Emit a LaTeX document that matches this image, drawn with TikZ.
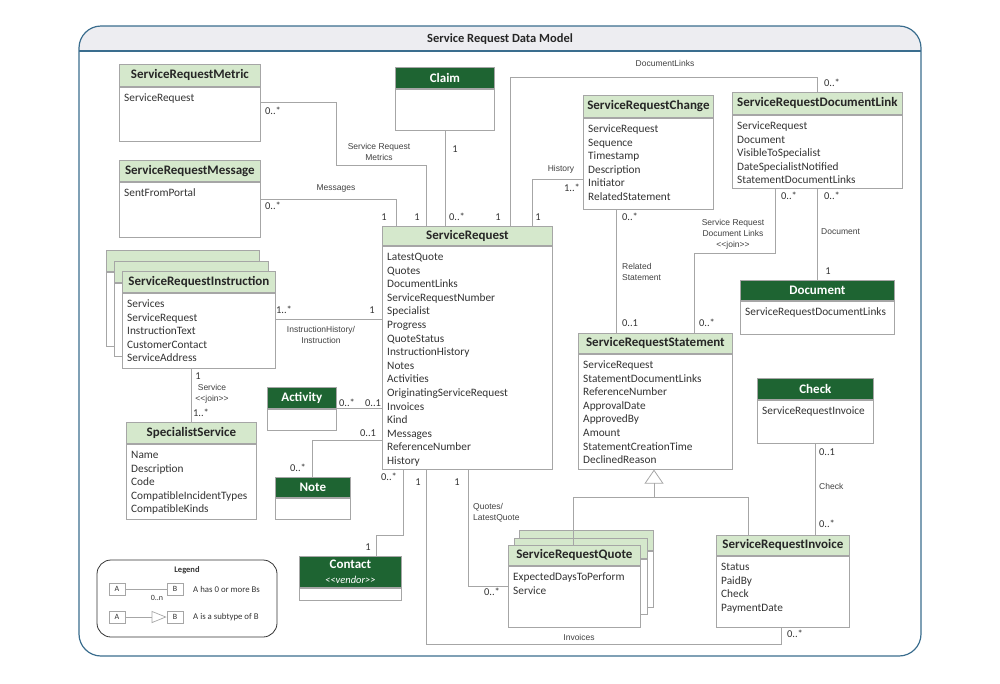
\documentclass[tikz,border=0pt]{standalone}
\usepackage{fontspec}
\setmainfont{Carlito}
\newfontfamily\arialfont{Liberation Sans}
\usetikzlibrary{calc,arrows.meta}

\definecolor{lightgreen}{HTML}{D5E8CC}
\definecolor{darkgreen}{HTML}{1E6432}
\definecolor{boxgray}{HTML}{A6A6A6}
\definecolor{txt}{HTML}{333333}
\definecolor{frameblue}{HTML}{3A6D8E}
\definecolor{bandgray}{HTML}{EDEDF1}

\tikzset{
  x=1pt, y=-1pt,
  lighthdr/.style={draw=boxgray, fill=lightgreen, line width=0.8pt, inner sep=0pt,
    font=\fontsize{13}{15}\selectfont\bfseries, text=black!85, align=center},
  darkhdr/.style={draw=boxgray, fill=darkgreen, line width=0.8pt, inner sep=0pt,
    font=\fontsize{13}{15}\selectfont\bfseries, text=white, align=center},
  bodybox/.style={draw=boxgray, fill=white, line width=0.8pt, inner sep=0pt},
  attrs/.style={font=\fontsize{11.3}{13.6}\selectfont, text=txt, inner sep=0pt,
    align=left, anchor=north west},
  conn/.style={draw=boxgray, line width=0.8pt},
  mult/.style={font=\fontsize{10.5}{12}\selectfont, text=txt, inner sep=0pt},
  lbl/.style={font=\arialfont\fontsize{8.5}{10.8}\selectfont, text=black!75,
    inner sep=0pt, align=center},
  legbox/.style={draw=boxgray, fill=white, line width=0.7pt, minimum width=16,
    minimum height=12, inner sep=0pt, font=\fontsize{8}{9}\selectfont, text=txt},
  legtext/.style={font=\fontsize{8.8}{10}\selectfont, text=txt, inner sep=0pt, anchor=west},
}

% class box: name, x, y, width, header height, body height, header style, title, attributes
\newcommand\classbox[9]{%
  \node[#7, minimum width=#4, minimum height=#5, anchor=north west] (#1) at (#2,#3) {#8};
  \node[bodybox, minimum width=#4, minimum height=#6, anchor=north] (#1B) at (#1.south) {};
  \node[attrs] (#1A) at ($(#1B.north west)+(5,4.5)$) {\rule{0pt}{10pt}#9};
}
% stacked copy behind a class box: name, x, y, width, header height, body height
\newcommand\stackbox[6]{%
  \node[lighthdr, minimum width=#4, minimum height=#5, anchor=north west] (#1) at (#2,#3) {};
  \node[bodybox, minimum width=#4, minimum height=#6, anchor=north] (#1B) at (#1.south) {};
}

\begin{document}
\begin{tikzpicture}
\useasboundingbox (0,0) rectangle (1000,683);

% frame with title band
\fill[bandgray] (79,51) [rounded corners=22] -- (79,26) -- (921,26) [sharp corners] -- (921,51) -- cycle;
\draw[frameblue, line width=1.2pt, rounded corners=22] (79,26) rectangle (921,656);
\draw[frameblue, line width=1.5pt] (79,51) -- (921,51);
\node[font=\fontsize{12.5}{14}\selectfont\bfseries, text=black!85, inner sep=0pt] (title) at (500,39) {Service Request Data Model};

% classes
\classbox{metric}{119}{64}{141}{22}{54}{lighthdr}{ServiceRequestMetric}{ServiceRequest}
\classbox{msg}{119}{160}{141}{21}{55}{lighthdr}{ServiceRequestMessage}{SentFromPortal}
\classbox{claim}{395}{67}{99}{21}{41}{darkhdr}{Claim}{}
\classbox{sr}{382}{226}{170}{19}{223}{lighthdr}{ServiceRequest}{LatestQuote\\Quotes\\DocumentLinks\\ServiceRequestNumber\\Specialist\\Progress\\QuoteStatus\\InstructionHistory\\Notes\\Activities\\OriginatingServiceRequest\\Invoices\\Kind\\Messages\\ReferenceNumber\\History}
\classbox{chg}{583}{95}{130}{22}{91}{lighthdr}{ServiceRequestChange}{ServiceRequest\\Sequence\\Timestamp\\Description\\Initiator\\RelatedStatement}
\classbox{dl}{732}{92}{170}{22}{73}{lighthdr}{ServiceRequestDocumentLink}{ServiceRequest\\Document\\VisibleToSpecialist\\DateSpecialistNotified\\StatementDocumentLinks}
\classbox{doc}{740}{280}{154}{20}{33}{darkhdr}{Document}{ServiceRequestDocumentLinks}
\classbox{stmt}{578}{333}{154}{20}{115}{lighthdr}{ServiceRequestStatement}{ServiceRequest\\StatementDocumentLinks\\ReferenceNumber\\ApprovalDate\\ApprovedBy\\Amount\\StatementCreationTime\\DeclinedReason}
\classbox{chk}{757}{378}{116}{21}{43}{darkhdr}{Check}{ServiceRequestInvoice}
\classbox{inv}{716}{535}{133}{20}{71}{lighthdr}{ServiceRequestInvoice}{Status\\PaidBy\\Check\\PaymentDate}

\stackbox{quoteBackB}{519}{530}{134}{20}{56}
\stackbox{quoteBackA}{514}{538}{133}{20}{55}
\classbox{quote}{508}{545}{132}{20}{61}{lighthdr}{ServiceRequestQuote}{ExpectedDaysToPerform\\Service}

\stackbox{instrBackB}{106}{250}{153}{21}{74}
\stackbox{instrBackA}{114}{261}{154}{21}{73}
\classbox{instr}{122}{271}{153}{21}{75}{lighthdr}{ServiceRequestInstruction}{Services\\ServiceRequest\\InstructionText\\CustomerContact\\ServiceAddress}

\classbox{spec}{126}{422}{130}{21}{75}{lighthdr}{SpecialistService}{Name\\Description\\Code\\CompatibleIncidentTypes\\CompatibleKinds}
\classbox{act}{267}{387}{69}{21}{21}{darkhdr}{Activity}{}
\classbox{note}{275}{477}{75}{20}{21}{darkhdr}{Note}{}
\classbox{contact}{299}{556}{102}{31}{12}{darkhdr}{Contact\\{\mdseries\itshape\fontsize{10.5}{11}\selectfont <{}<vendor>{}>}}{}

% associations
\coordinate (metricBend) at (336,165);
\draw[conn] ($(metricB.north east)+(0,16)$) -| (metricBend) -| ($(sr.north west)+(44,0)$);
\draw[conn] ($(msgB.north east)+(0,18)$) -| ($(sr.north west)+(14,0)$);
\draw[conn] ($(claimB.south west)+(50,0)$) -- ($(sr.north west)+(63,0)$);
\draw[conn] ($(sr.north west)+(128,0)$) |- ($(dl.north west)+(85,-15)$) -- ($(dl.north west)+(85,0)$);
\draw[conn] ($(sr.north west)+(150,0)$) |- ($(chgB.north west)+(0,62)$);
\draw[conn] ($(chgB.south west)+(33,0)$) -- ($(stmt.north west)+(38,0)$);
\draw[conn] ($(dlB.south west)+(43,0)$) -- ($(dlB.south west)+(43,65)$) -| ($(stmt.north west)+(116,0)$);
\draw[conn] ($(dlB.south west)+(85,0)$) -- ($(doc.north west)+(77,0)$);
\draw[conn] ($(instrB.north east)+(0,27)$) -- ($(srB.north west)+(0,74)$);
\draw[conn] ($(instrB.south west)+(69,0)$) -- ($(spec.north west)+(65,0)$);
\draw[conn] (actB.north east) -- ($(srB.north west)+(0,163)$);
\draw[conn] ($(srB.north west)+(0,195)$) -| ($(note.north west)+(37,0)$);
\draw[conn] ($(srB.south west)+(21,0)$) -- ($(srB.south west)+(21,66)$) -| ($(contact.north west)+(77,0)$);
\draw[conn] ($(srB.south west)+(86,0)$) |- ($(quoteB.north west)+(0,21)$);
\draw[conn] ($(srB.south west)+(44,0)$) |- ($(invB.south west)+(65,17)$) -- ($(invB.south west)+(65,0)$);
\draw[conn] ($(chkB.south west)+(58,0)$) -- ($(inv.north west)+(99,0)$);

% generalization of quote and invoice to statement
\coordinate (genJoin) at ($(stmtB.south west)+(76,28)$);
\draw[conn, -{Triangle[open, length=14pt, width=19pt, line width=0.8pt]}]
  ($(quote.north west)+(65,0)$) |- (genJoin) -- ($(stmtB.south west)+(76,0)$);
\draw[conn] ($(inv.north west)+(32,0)$) |- (genJoin);

% association labels
\node[lbl] (lMetrics) at (379,152) {Service Request\\Metrics};
\node[lbl] (lMessages) at (336,188) {Messages};
\node[lbl] (lDocLinks) at (665,63) {DocumentLinks};
\node[lbl] (lHistory) at (561,169) {History};
\node[lbl, align=left, anchor=west] (lRelated) at (622,272) {Related\\Statement};
\node[lbl] (lJoin) at (733,234) {Service Request\\Document Links\\<{}<join>{}>};
\node[lbl, anchor=west] (lDocument) at (821,232) {Document};
\node[lbl] (lInstr) at (321,335) {InstructionHistory/\\Instruction};
\node[lbl] (lService) at (212,394) {Service\\<{}<join>{}>};
\node[lbl, align=left, anchor=west] (lQuotes) at (473,513) {Quotes/\\LatestQuote};
\node[lbl] (lInvoices) at (579,637) {Invoices};
\node[lbl, anchor=west] (lCheck) at (819,486) {Check};

% multiplicities
\node[mult] (mMetric) at (273,111) {0..*};
\node[mult] (mMsg) at (273,206) {0..*};
\node[mult] (mSrMsg) at (384,217) {1};
\node[mult] (mSrMetric) at (417,217) {1};
\node[mult] (mSrClaim) at (457,217) {0..*};
\node[mult] (mSrDoc) at (498,217) {1};
\node[mult] (mSrHist) at (538,217) {1};
\node[mult] (mClaim) at (455,149) {1};
\node[mult] (mHist) at (572,188) {1..*};
\node[mult] (mDocLinks) at (832,83) {0..*};
\node[mult] (mChg) at (630,217) {0..*};
\node[mult] (mDlJoin) at (789,196) {0..*};
\node[mult] (mDlDoc) at (832,196) {0..*};
\node[mult] (mDoc) at (828,271) {1};
\node[mult] (mStmtRel) at (630,323) {0..1};
\node[mult] (mStmtJoin) at (707,323) {0..*};
\node[mult] (mInstr) at (284,310) {1..*};
\node[mult] (mSrInstr) at (372,310) {1};
\node[mult] (mInstrSvc) at (198,376) {1};
\node[mult] (mSpec) at (201,413) {1..*};
\node[mult] (mAct) at (347,403) {0..*};
\node[mult] (mSrAct) at (373,403) {0..1};
\node[mult] (mSrNote) at (368,433) {0..1};
\node[mult] (mNote) at (298,468) {0..*};
\node[mult] (mSrContact) at (389,477) {0..*};
\node[mult] (mSrInv) at (418,482) {1};
\node[mult] (mSrQuote) at (457,482) {1};
\node[mult] (mContact) at (368,547) {1};
\node[mult] (mQuote) at (492,592) {0..*};
\node[mult] (mInv) at (795,634) {0..*};
\node[mult] (mChk) at (827,452) {0..1};
\node[mult] (mInvChk) at (827,524) {0..*};

% legend
\draw[black!80, line width=0.8pt, rounded corners=14] (97,560) rectangle (277,637);
\node[font=\fontsize{8.5}{10}\selectfont\bfseries, text=txt, inner sep=0pt] (legTitle) at (187,570) {Legend};
\node[legbox] (legA1) at (117,589) {A};
\node[legbox] (legB1) at (175,589) {B};
\draw[conn, line width=0.7pt] (legA1) -- (legB1);
\node[font=\fontsize{8}{9}\selectfont, text=txt, inner sep=0pt] (legMult) at (157,598) {0..n};
\node[legtext] (legText1) at (193,589) {A has 0 or more Bs};
\node[legbox] (legA2) at (117,617) {A};
\node[legbox] (legB2) at (175,617) {B};
\draw[conn, line width=0.7pt, -{Triangle[open, length=15pt, width=12pt, line width=0.7pt]}] (legA2) -- (legB2);
\node[legtext] (legText2) at (193,617) {A is a subtype of B};
\end{tikzpicture}
\end{document}
